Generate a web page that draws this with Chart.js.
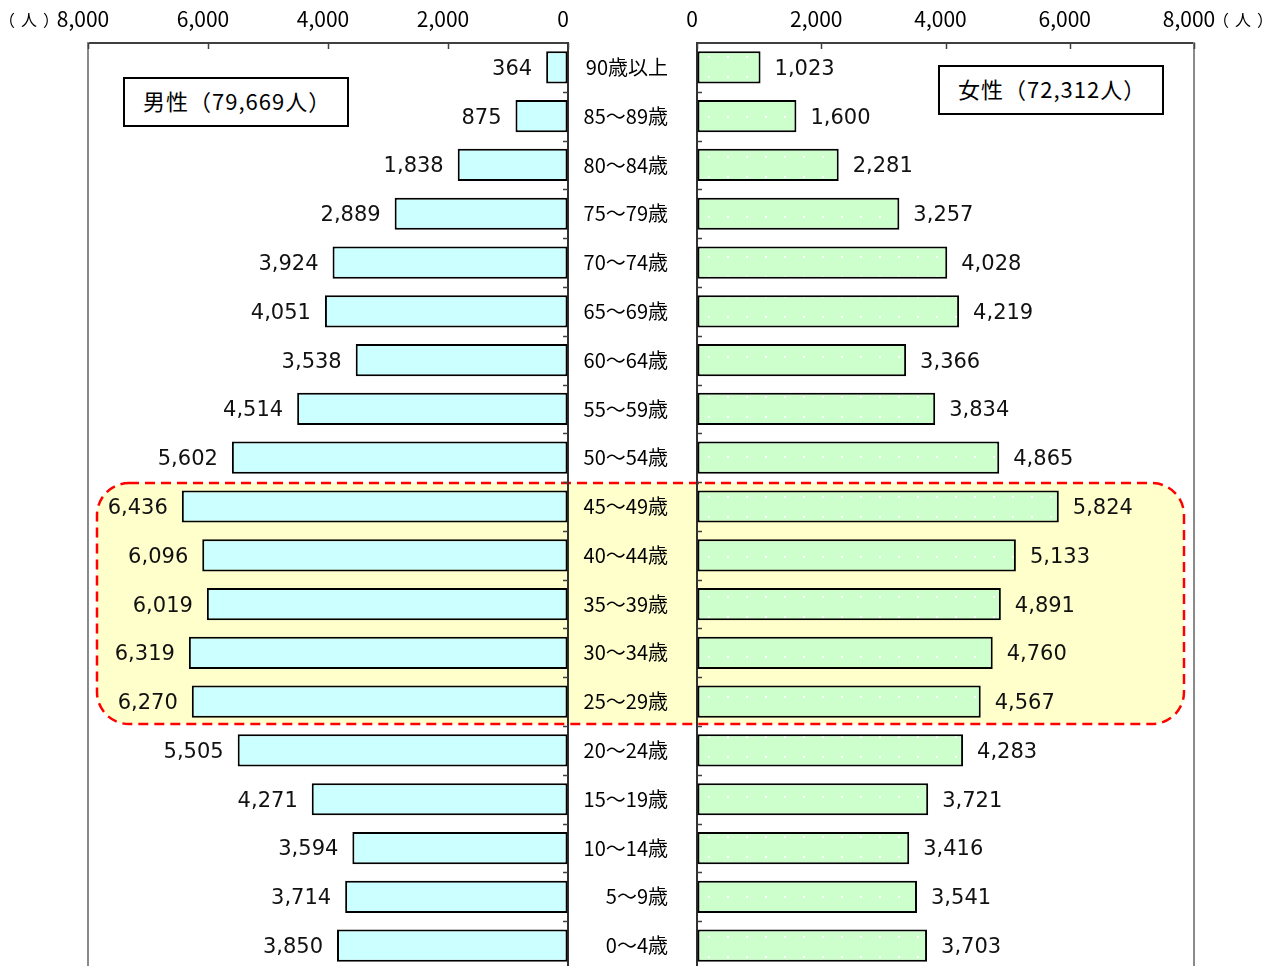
<!DOCTYPE html>
<html lang="ja">
<head>
<meta charset="utf-8">
<title>年齢別人口（男女別）</title>
<script src="https://cdn.jsdelivr.net/npm/chart.js@4/dist/chart.umd.min.js"></script>
<style>
  html, body { margin: 0; padding: 0; background: #fff; overflow: hidden; }
  #stage { position: relative; width: 1272px; height: 966px; overflow: hidden; }
  #stage canvas { position: absolute; left: 0; top: 0; }
  .unit { position: absolute; top: 8px; font: 16px "Noto Sans CJK JP", sans-serif; color: #000;
          line-height: 22px; letter-spacing: 6px; white-space: nowrap; }
  .total { position: absolute; box-sizing: border-box; width: 226px; height: 50px;
           border: 2px solid #000; background: #fff; padding: 0 0 4px 18px; letter-spacing: 1px;
           font: 22px "Noto Sans CJK JP", sans-serif; color: #000;
           display: flex; align-items: center; }
</style>
</head>
<body>
<div id="stage">
  <canvas id="maleChart" width="1272" height="980"></canvas>
  <canvas id="femaleChart" width="1272" height="980"></canvas>
  <div class="unit" style="left:-1px">（人）</div>
  <div class="unit" style="left:1213px">（人）</div>
  <div class="total" id="maleTotal" style="left:123px; top:77px"></div>
  <div class="total" id="femaleTotal" style="left:938px; top:65px"></div>
</div>
<script>
// 年齢階級（上から高齢順）
const AGE_GROUPS = ['90歳以上', '85～89歳', '80～84歳', '75～79歳', '70～74歳', '65～69歳',
  '60～64歳', '55～59歳', '50～54歳', '45～49歳', '40～44歳', '35～39歳', '30～34歳',
  '25～29歳', '20～24歳', '15～19歳', '10～14歳', '5～9歳', '0～4歳'];

// 男性人口（人）
const MALE = [364, 875, 1838, 2889, 3924, 4051, 3538, 4514, 5602, 6436, 6096, 6019, 6319,
  6270, 5505, 4271, 3594, 3714, 3850];

// 女性人口（人）
const FEMALE = [1023, 1600, 2281, 3257, 4028, 4219, 3366, 3834, 4865, 5824, 5133, 4891, 4760,
  4567, 4283, 3721, 3416, 3541, 3703];

// 目盛
const AXIS_TICKS = [0, 2000, 4000, 6000, 8000];
const AXIS_MAX = 8000;

// 強調する年齢層
const BAND_FROM = '45～49歳';
const BAND_TO = '25～29歳';

// 配置（ピクセル）
const MALE_LEFT = 88, MALE_RIGHT = 568, FEMALE_LEFT = 697, FEMALE_RIGHT = 1194;
const AXIS_TOP = 43, CANVAS_W = 1272, BOTTOM_PAD = 10;

const fmt = v => Number(v).toLocaleString('en-US');
const sum = a => a.reduce((s, v) => s + v, 0);

document.getElementById('maleTotal').textContent = '男性（' + fmt(sum(MALE)) + '人）';
document.getElementById('femaleTotal').textContent = '女性（' + fmt(sum(FEMALE)) + '人）';

const TICK_FONT = { family: '"Noto Sans CJK JP", sans-serif', size: 21 };
const AGE_FONT = { family: '"Noto Sans CJK JP", sans-serif', size: 20 };
const VALUE_FONT = '21px "DejaVu Sans", sans-serif';

// 女性の棒の水玉模様
const dotPattern = (() => {
  const c = document.createElement('canvas');
  c.width = 19; c.height = 20;
  const g = c.getContext('2d');
  g.fillStyle = '#CCFFCC';
  g.fillRect(0, 0, 19, 20);
  g.fillStyle = '#FFFFFF';
  g.fillRect(5, 16, 2, 2);
  return g.createPattern(c, 'repeat');
})();

// 棒の先に数値を表示
const valueLabels = {
  id: 'valueLabels',
  afterDatasetsDraw(chart, args, opts) {
    const { ctx } = chart;
    const meta = chart.getDatasetMeta(0);
    const data = chart.data.datasets[0].data;
    const left = opts.side === 'left';
    ctx.save();
    ctx.font = VALUE_FONT;
    ctx.fillStyle = '#111';
    ctx.textBaseline = 'middle';
    ctx.textAlign = left ? 'right' : 'left';
    meta.data.forEach((bar, i) => {
      ctx.fillText(fmt(data[i]), left ? bar.x - 14 : bar.x + 14, bar.y + 2);
    });
    ctx.restore();
  }
};

// 外枠線と内向きの目盛線
const panelFrame = {
  id: 'panelFrame',
  afterDraw(chart, args, opts) {
    const { ctx, chartArea: a, scales: { x, y } } = chart;
    const left = opts.side === 'left';
    ctx.save();
    ctx.strokeStyle = '#8a8a8a';
    ctx.lineWidth = 2;
    const ox = left ? a.left : a.right;
    ctx.beginPath();
    ctx.moveTo(ox, a.top - 1);
    ctx.lineTo(ox, a.bottom);
    ctx.stroke();

    ctx.strokeStyle = '#404040';
    ctx.lineWidth = 1.5;
    ctx.beginPath();
    x.ticks.forEach(t => {
      const px = Math.round(x.getPixelForValue(t.value)) + 0.5;
      ctx.moveTo(px, a.top);
      ctx.lineTo(px, a.top + 6);
    });
    const n = y.getLabels().length;
    const step = a.height / n;
    const cx = left ? a.right : a.left;
    const dir = left ? -1 : 1;
    for (let i = 1; i < n; i++) {
      const py = Math.round(a.top + i * step) + 0.5;
      ctx.moveTo(cx, py);
      ctx.lineTo(cx + dir * 5, py);
    }
    ctx.stroke();
    ctx.restore();
  }
};

// 強調範囲の背景（角丸・赤破線）
const ageBand = {
  id: 'ageBand',
  beforeDraw(chart) {
    const { ctx, scales: { y } } = chart;
    const labels = y.getLabels();
    const i0 = labels.indexOf(BAND_FROM), i1 = labels.indexOf(BAND_TO);
    const half = (y.getPixelForValue(1) - y.getPixelForValue(0)) / 2;
    const top = y.getPixelForValue(i0) - half + 1;
    const bottom = y.getPixelForValue(i1) + half - 2;
    const l = MALE_LEFT + 9, r = FEMALE_RIGHT - 10;
    ctx.save();
    ctx.beginPath();
    ctx.roundRect(l, top, r - l, bottom - top, 32);
    ctx.fillStyle = '#FFFFCC';
    ctx.fill();
    ctx.setLineDash([10, 6]);
    ctx.lineWidth = 2.5;
    ctx.strokeStyle = '#FF0000';
    ctx.stroke();
    ctx.restore();
  }
};

function xScale(reverse) {
  return {
    type: 'linear', position: 'top', reverse, min: 0, max: AXIS_MAX,
    afterBuildTicks: s => { s.ticks = AXIS_TICKS.map(v => ({ value: v })); },
    afterFit: s => { s.height = AXIS_TOP; s.paddingLeft = 0; s.paddingRight = 0; },
    grid: { drawOnChartArea: false, drawTicks: false },
    border: { color: '#404040', width: 2 },
    ticks: { padding: 11, labelOffset: -5, color: '#000', font: TICK_FONT, autoSkip: false,
             maxRotation: 0, callback: v => fmt(v) }
  };
}

function yScale(position, width, showLabels) {
  return {
    type: 'category', position,
    afterFit: s => { s.width = width; s.paddingTop = 0; s.paddingBottom = 0; },
    ticks: showLabels ? { padding: 29, color: '#000', font: AGE_FONT } : { display: false },
    grid: { drawOnChartArea: false, drawTicks: false },
    border: { color: '#303030', width: 2 }
  };
}

const common = {
  responsive: false,
  animation: false,
  devicePixelRatio: 1,
  indexAxis: 'y',
  events: []
};

new Chart(document.getElementById('maleChart'), {
  type: 'bar',
  data: {
    labels: AGE_GROUPS,
    datasets: [{
      label: '男性', data: MALE,
      backgroundColor: '#CCFFFF', borderColor: '#000', borderWidth: 2, borderSkipped: false,
      barPercentage: 0.66, categoryPercentage: 1
    }]
  },
  options: {
    ...common,
    layout: { padding: { left: MALE_LEFT, right: CANVAS_W - MALE_RIGHT, top: 0, bottom: BOTTOM_PAD } },
    scales: { x: xScale(true), y: yScale('right', 0, false) },
    plugins: {
      legend: { display: false }, tooltip: { enabled: false },
      valueLabels: { side: 'left' }, panelFrame: { side: 'left' }
    }
  },
  plugins: [ageBand, valueLabels, panelFrame]
});

new Chart(document.getElementById('femaleChart'), {
  type: 'bar',
  data: {
    labels: AGE_GROUPS,
    datasets: [{
      label: '女性', data: FEMALE,
      backgroundColor: dotPattern, borderColor: '#000', borderWidth: 2, borderSkipped: false,
      barPercentage: 0.66, categoryPercentage: 1
    }]
  },
  options: {
    ...common,
    layout: { padding: { left: MALE_RIGHT, right: CANVAS_W - FEMALE_RIGHT, top: 0, bottom: BOTTOM_PAD } },
    scales: { x: xScale(false), y: yScale('left', FEMALE_LEFT - MALE_RIGHT, true) },
    plugins: {
      legend: { display: false }, tooltip: { enabled: false },
      valueLabels: { side: 'right' }, panelFrame: { side: 'right' }
    }
  },
  plugins: [valueLabels, panelFrame]
});
</script>
</body>
</html>
